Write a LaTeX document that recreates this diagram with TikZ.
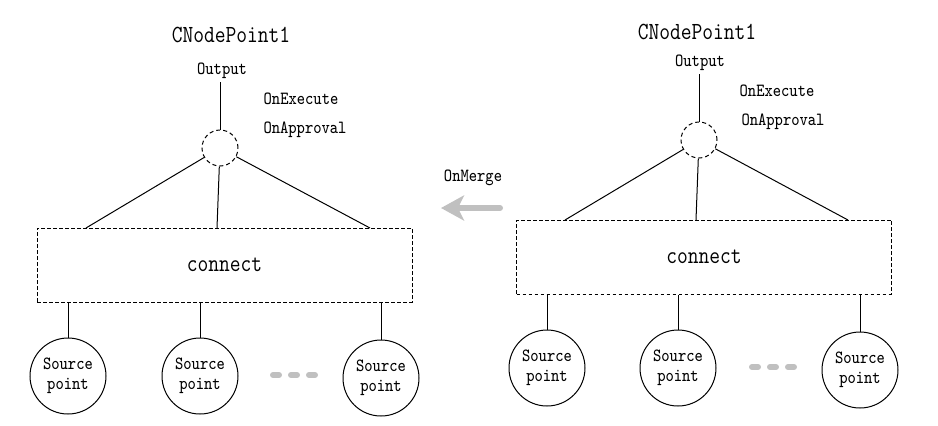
\documentclass[tikz,border=0pt]{standalone}
\usepackage{fontspec}
\setmainfont{Latin Modern Mono}[FakeStretch=0.85]
\usepackage{tikz}
\usetikzlibrary{shapes,positioning,arrows.meta}
\definecolor{mergegray}{RGB}{192,192,192}
\newcommand{\lblfont}{\fontsize{9.3}{10}\selectfont}
\newcommand{\titlefont}{\fontsize{12.3}{14}\selectfont}

\begin{document}
\begin{tikzpicture}[x=0.5pt, y=-0.5pt, line width=0.5pt,
    lbl/.style={inner sep=1.5pt, font=\lblfont},
    title/.style={inner sep=1pt, font=\titlefont},
    hub/.style={draw, circle, dashed, dash pattern=on 2pt off 1.5pt, minimum size=18pt, inner sep=0pt},
    connbox/.style={draw, dashed, dash pattern=on 1.8pt off 1.2pt, minimum width=187.5pt, minimum height=37pt, font=\titlefont},
    src/.style={draw, circle, minimum size=38pt, inner sep=0pt, align=center, font=\lblfont},
    dotbar/.style={mergegray, line width=3pt, line cap=round},
    merge/.style={mergegray, line width=3pt, line cap=round, -{Stealth[length=11.5pt, width=12.5pt, inset=3pt]}}]
  \useasboundingbox (0,0) rectangle (938,425);
         % left
         \node[title] (TL) at (231,35) {CNodePoint1};
         \node[lbl] (OL) at (222,71) {Output};
         \node[lbl] (EL) at (301,99) {OnExecute};
         \node[lbl] (AL) at (305,130) {OnApproval};
         \node[hub] (HL) at (220,148) {};
         \node[connbox] (CL) at (224.5,265) {connect};
         \node[src] (S1L) at (68,376) {Source\\point};
         \node[src] (S2L) at (200,376) {Source\\point};
         \node[src] (S3L) at (381,378) {Source\\point};
         \coordinate (C1L) at (86,228);
         \coordinate (C2L) at (217,228);
         \coordinate (C3L) at (370,228);
         \draw (HL) -- (HL |- OL.south);
         \draw (HL) -- (C1L);
         \draw (HL) -- (C2L);
         \draw (HL) -- (C3L);
         \draw (S1L) -- (S1L |- CL.south);
         \draw (S2L) -- (S2L |- CL.south);
         \draw (S3L) -- (S3L |- CL.south);
         \foreach \x in {276,294,312} \draw[dotbar] (\x-3,375) -- (\x+3,375);
         % right
         \node[title] (TR) at (697,32) {CNodePoint1};
         \node[lbl] (OR) at (700,63) {Output};
         \node[lbl] (ER) at (777,91) {OnExecute};
         \node[lbl] (AR) at (783,122) {OnApproval};
         \node[hub] (HR) at (699,140) {};
         \node[connbox] (CR) at (704,257) {connect};
         \node[src] (S1R) at (547,368) {Source\\point};
         \node[src] (S2R) at (678,368) {Source\\point};
         \node[src] (S3R) at (860,370) {Source\\point};
         \coordinate (C1R) at (565,220);
         \coordinate (C2R) at (696,220);
         \coordinate (C3R) at (848,220);
         \draw (HR) -- (HR |- OR.south);
         \draw (HR) -- (C1R);
         \draw (HR) -- (C2R);
         \draw (HR) -- (C3R);
         \draw (S1R) -- (S1R |- CR.south);
         \draw (S2R) -- (S2R |- CR.south);
         \draw (S3R) -- (S3R |- CR.south);
         \foreach \x in {755,773,791} \draw[dotbar] (\x-3,367) -- (\x+3,367);
         % merge
         \node[lbl] (M) at (473,178) {OnMerge};
         \coordinate (MB) at (500,208);
         \coordinate (MT) at (441,208);
         \draw[merge] (MB) -- (MT);
\end{tikzpicture}
\end{document}
